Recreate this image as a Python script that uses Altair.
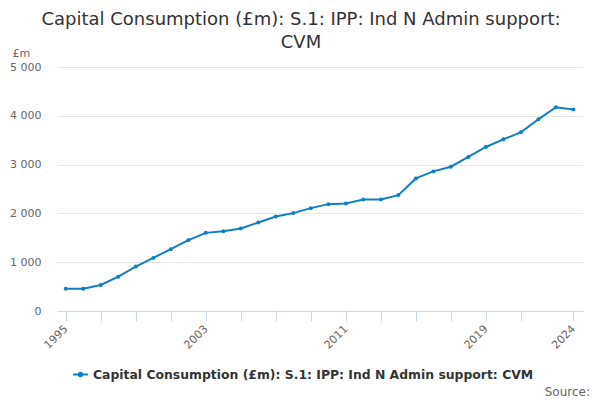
import altair as alt
import pandas as pd

years = list(range(1995, 2025))
values = [458, 458, 534, 704, 910, 1088, 1267, 1451, 1601, 1636,
          1690, 1813, 1936, 2006, 2108, 2190, 2204, 2286, 2286, 2375,
          2717, 2861, 2957, 3156, 3361, 3518, 3661, 3928, 4175, 4127]
series_name = "Capital Consumption (£m): S.1: IPP: Ind N Admin support: CVM"
tick_years = [1995, 1997, 1999, 2001, 2003, 2005, 2007, 2009, 2011, 2013,
              2015, 2017, 2019, 2021, 2024]
label_years = [1995, 2003, 2011, 2019, 2024]
y_ticks = [0, 1000, 2000, 3000, 4000, 5000]

df = pd.DataFrame({"year": years, "value": values, "series": series_name})
blue = "#0f7fc4"
font = "DejaVu Sans"

label_test = " || ".join(f"datum.value == {y}" for y in label_years)

x = alt.X("year:Q",
          scale=alt.Scale(domain=[1994.5, 2024.55], nice=False, zero=False),
          axis=alt.Axis(values=tick_years, title=None, grid=False,
                        labelExpr=f"({label_test}) ? toString(datum.value) : ''",
                        labelAngle=-45, labelAlign="right", labelBaseline="middle",
                        labelFont=font, labelFontSize=11, labelColor="#666666",
                        labelPadding=6, labelOverlap=False,
                        domainColor="#ccd6eb", tickColor="#ccd6eb", tickSize=10))
y = alt.Y("value:Q",
          scale=alt.Scale(domain=[0, 5000], nice=False),
          axis=alt.Axis(values=y_ticks, title="£m", titleAngle=0,
                        titleAlign="left", titleBaseline="alphabetic",
                        titleX=-45, titleY=-11, titleFont=font,
                        titleFontSize=11, titleFontWeight="normal",
                        titleColor="#666666",
                        labelExpr="replace(format(datum.value, ','), ',', ' ')",
                        labelFont=font, labelFontSize=11, labelColor="#666666",
                        labelPadding=16, tickSize=0, domain=False,
                        gridColor="#e6e6e6"))

color = alt.Color("series:N", scale=alt.Scale(range=[blue]),
                  legend=alt.Legend(title=None, orient="none", legendX=15,
                                    legendY=299,
                                    symbolType="M-1,0H1M-0.25,0a0.25,0.25 0 1,0 0.5,0a0.25,0.25 0 1,0 -0.5,0",
                                    symbolStrokeWidth=2, symbolSize=220,
                                    symbolFillColor=blue, symbolStrokeColor=blue,
                                    labelFont=font, labelFontSize=12.4,
                                    labelFontWeight="bold", labelColor="#333333",
                                    labelLimit=600))

line = alt.Chart(df).mark_line(strokeWidth=2).encode(x=x, y=y, color=color)
pts = alt.Chart(df).mark_point(filled=True, size=16, opacity=1).encode(
    x=x, y=y, color=alt.Color("series:N", scale=alt.Scale(range=[blue]), legend=None))

src = alt.Chart(pd.DataFrame({"t": ["Source:"]})).mark_text(
    align="right", baseline="alphabetic", font=font, fontSize=12, color="#666666"
).encode(text="t:N", x=alt.value(533), y=alt.value(329))

chart = alt.layer(line, pts, src).properties(
    width=526, height=244,
    padding={"left": 49, "top": 59, "right": 9, "bottom": 90},
    autosize=alt.AutoSizeParams(type="none"),
    title=alt.TitleParams(
        text=["Capital Consumption (£m): S.1: IPP: Ind N Admin support:", "CVM"],
        anchor="middle", dx=-19, dy=19, offset=14, font=font, fontSize=18,
        fontWeight="normal", color="#333333", lineHeight=23),
).configure_view(stroke=None)

chart.save("out.html", embed_options={"renderer": "svg", "actions": False})
